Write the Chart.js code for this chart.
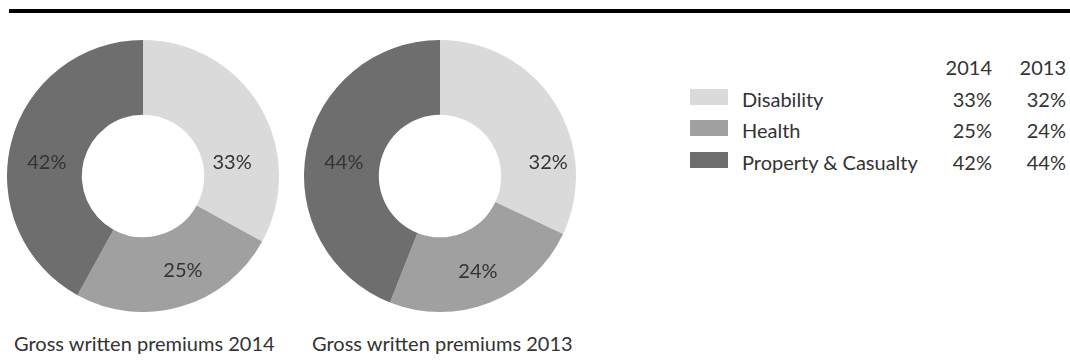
<!DOCTYPE html>
<html>
<head>
<meta charset="utf-8">
<script src="https://cdn.jsdelivr.net/npm/chart.js@4.4.1/dist/chart.umd.min.js"></script>
<style>
  html, body { margin: 0; padding: 0; background: #fff; }
  body { width: 1070px; height: 363px; position: relative; overflow: hidden;
         font-family: Lato, "Noto Sans", sans-serif; font-size: 20px; color: #333; }
  #rule { position: absolute; left: 9px; top: 9px; width: 1061px; height: 4px; background: #000; }
  canvas { position: absolute; top: 40px; }
  #chart2014 { left: 7px; }
  #chart2013 { left: 304px; }
  .caption { position: absolute; top: 331px; line-height: 24px; white-space: nowrap; }
  #legend div { position: absolute; line-height: 24px; white-space: nowrap; }
  .swatch { width: 38px; height: 16px; }
  .num { text-align: right; width: 60px; }
</style>
</head>
<body>
<div id="rule"></div>
<canvas id="chart2014" width="272" height="272"></canvas>
<canvas id="chart2013" width="272" height="272"></canvas>
<div id="legend"></div>
<div class="caption" style="left:14px">Gross written premiums 2014</div>
<div class="caption" style="left:312px">Gross written premiums 2013</div>

<script>
const categories = ["Disability", "Health", "Property & Casualty"];
const years = ["2014", "2013"];
const share2014 = [33, 25, 42];
const share2013 = [32, 24, 44];
const sliceColors = ["#d9dad9", "#a0a0a0", "#6e6e6e"];

// percent text drawn inside each ring slice, at a given angle (deg from top) and radius
const sliceLabels = {
  id: "sliceLabels",
  afterDatasetsDraw(chart, args, opts) {
    const ctx = chart.ctx;
    const values = chart.data.datasets[0].data;
    ctx.save();
    ctx.font = opts.font;
    ctx.fillStyle = opts.color;
    ctx.textAlign = "center";
    ctx.textBaseline = "middle";
    chart.getDatasetMeta(0).data.forEach((arc, i) => {
      const a = (opts.angles[i] - 90) * Math.PI / 180;
      const r = opts.radii[i];
      ctx.fillText(values[i] + "%", arc.x + r * Math.cos(a), arc.y + r * Math.sin(a));
    });
    ctx.restore();
  }
};

function makeDonut(id, values, angles, radii) {
  return new Chart(document.getElementById(id), {
    type: "doughnut",
    data: {
      labels: categories,
      datasets: [{
        data: values,
        backgroundColor: sliceColors,
        borderWidth: 0
      }]
    },
    options: {
      responsive: false,
      animation: false,
      cutout: "45%",
      layout: { padding: 0 },
      plugins: {
        legend: { display: false },
        tooltip: { enabled: false },
        sliceLabels: {
          font: "20px Lato, 'Noto Sans', sans-serif",
          color: "#333",
          angles,
          radii
        }
      }
    },
    plugins: [sliceLabels]
  });
}

makeDonut("chart2014", share2014, [81.7, 157.2, 277.7], [90, 103, 97]);
makeDonut("chart2013", share2013, [83.1, 158.4, 277.7], [109, 103, 97]);

// legend table on the right
const legendEl = document.getElementById("legend");
function cell(html, cls, left, top) {
  const d = document.createElement("div");
  if (cls) d.className = cls;
  d.style.left = left + "px";
  d.style.top = top + "px";
  d.innerHTML = html;
  legendEl.appendChild(d);
  return d;
}
const numRight = [992, 1066];
const rowMid = (i) => 67 + i * 31.7;
years.forEach((y, j) => cell(y, "num", numRight[j] - 60, rowMid(0) - 12));
const shares = [share2014, share2013];
categories.forEach((name, i) => {
  const mid = rowMid(i + 1);
  const sw = cell("", "swatch", 690, mid - 10);
  sw.style.background = sliceColors[i];
  cell(name.replace("&", "&amp;"), "", 742, mid - 12);
  shares.forEach((s, j) => cell(s[i] + "%", "num", numRight[j] - 60, mid - 12));
});
</script>
</body>
</html>
